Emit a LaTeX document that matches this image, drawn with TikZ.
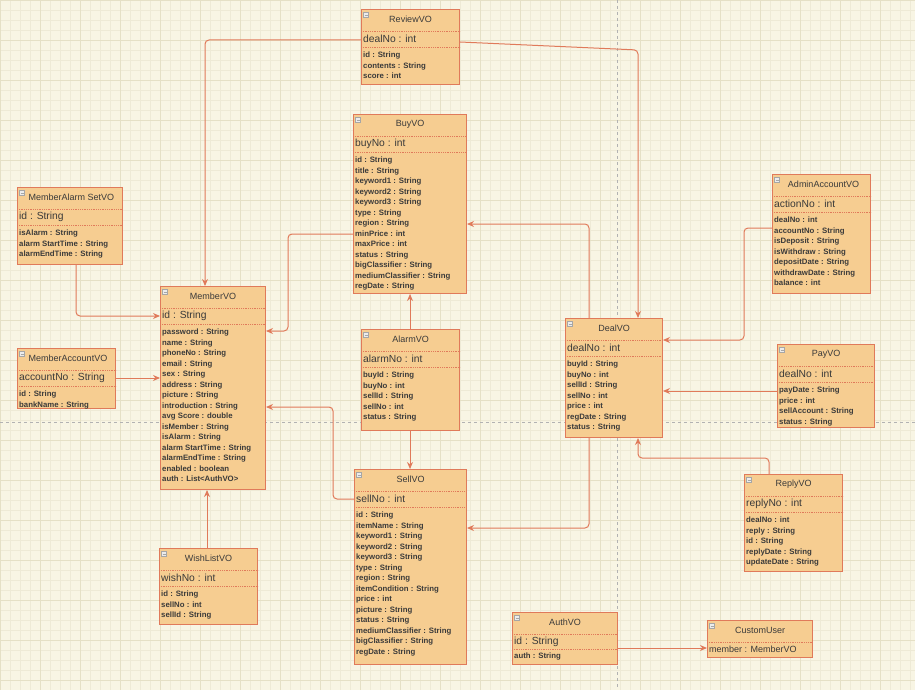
\documentclass[tikz,border=0pt]{standalone}
\usepackage{fontspec}
\setmainfont{Liberation Sans}
\usetikzlibrary{arrows.meta}
\definecolor{paper}{HTML}{F8F5E4}
\definecolor{gridfine}{HTML}{EEEAD6}
\definecolor{gridmajor}{HTML}{E5E0C6}
\definecolor{classfill}{HTML}{F6CD91}
\definecolor{classline}{HTML}{E07A5A}
\definecolor{textgray}{HTML}{3A3A3A}
\tikzset{
  classbox/.style={draw=classline, fill=classfill, line width=1pt, inner sep=0pt},
  classsep/.style={classline, densely dotted, line width=0.8pt},
  classtitle/.style={font=\fontsize{9}{10}\selectfont, text=textgray, inner sep=0pt},
  classkey/.style={font=\fontsize{10.3}{11}\selectfont, text=textgray, inner sep=0pt},
  classattr/.style={font=\fontsize{7.8}{10.5}\selectfont\bfseries, text=textgray, align=left, inner sep=0pt},
  classicon/.style={draw=gray!70, fill=gray!15, minimum size=5pt, inner sep=0pt, line width=0.4pt},
  assoc/.style={classline, line width=1pt, rounded corners=4pt, -{Stealth[length=7pt,width=6pt]}},
  pagebreak/.style={gray!60, dashed, line width=0.8pt}
}
% #1 name, #2 x, #3 y, #4 width, #5 height, #6 title, #7 key, #8 fields
\newcommand\classbox[8]{%
  \node[classbox, minimum width=#4pt, minimum height=#5pt, anchor=north west] (#1) at (#2,#3) {};
  \draw[classsep] ([yshift=-22pt]#1.north west) -- ([yshift=-22pt]#1.north east);
  \draw[classsep] ([yshift=-38pt]#1.north west) -- ([yshift=-38pt]#1.north east);
  \node[classicon] (#1-icon) at ([xshift=5pt,yshift=-6pt]#1.north west) {};
  \draw[gray!70, line width=0.4pt] ([xshift=-1.5pt]#1-icon.center) -- ([xshift=1.5pt]#1-icon.center);
  \node[classtitle] (#1-title) at ([yshift=-10.5pt]#1.north) {#6};
  \node[classkey, anchor=west] (#1-key) at ([xshift=2pt,yshift=-30pt]#1.north west) {#7};
  \node[classattr, anchor=north west] (#1-fields) at ([xshift=2pt,yshift=-43pt]#1.north west) {#8};
}

\begin{document}
\begin{tikzpicture}[x=1pt, y=-1pt]
\useasboundingbox (0,0) rectangle (915,690);
\fill[paper] (0,0) rectangle (915,690);
\draw[gridfine, line width=0.5pt, step=10pt] (0,0) grid (915,690);
\draw[gridmajor, line width=0.6pt, step=40pt] (0,0) grid (915,690);
\draw[pagebreak] (617,0) -- (617,690);
\draw[pagebreak] (0,422) -- (915,422);

\classbox{review}{361}{9}{98}{75}{ReviewVO}{dealNo : int}{id : String\\contents : String\\score : int}
\classbox{buy}{353}{114}{113}{179}{BuyVO}{buyNo : int}{id : String\\title : String\\keyword1 : String\\keyword2 : String\\keyword3 : String\\type : String\\region : String\\minPrice : int\\maxPrice : int\\status : String\\bigClassifier : String\\mediumClassifier : String\\regDate : String}
\classbox{alarmset}{17}{187}{105}{77}{\hspace*{3pt}MemberAlarm SetVO}{id : String}{isAlarm : String\\alarm StartTime : String\\alarmEndTime : String}
\classbox{account}{17}{348}{98}{60}{\hspace*{3pt}MemberAccountVO}{accountNo : String}{id : String\\bankName : String}
\classbox{member}{160}{286}{105}{203}{MemberVO}{id : String}{password : String\\name : String\\phoneNo : String\\email : String\\sex : String\\address : String\\picture : String\\introduction : String\\avg Score : double\\isMember : String\\isAlarm : String\\alarm StartTime : String\\alarmEndTime : String\\enabled : boolean\\auth : List<AuthVO>}
\classbox{alarm}{361}{329}{98}{101}{AlarmVO}{alarmNo : int}{buyId : String\\buyNo : int\\sellId : String\\sellNo : int\\status : String}
\classbox{sell}{354}{469}{112}{195}{SellVO}{sellNo : int}{id : String\\itemName : String\\keyword1 : String\\keyword2 : String\\keyword3 : String\\type : String\\region : String\\itemCondition : String\\price : int\\picture : String\\status : String\\mediumClassifier : String\\bigClassifier : String\\regDate : String}
\classbox{deal}{565}{318}{97}{119}{DealVO}{dealNo : int}{buyId : String\\buyNo : int\\sellId : String\\sellNo : int\\price : int\\regDate : String\\status : String}
\classbox{admin}{772}{174}{98}{119}{\hspace*{4pt}AdminAccountVO}{actionNo : int}{dealNo : int\\accountNo : String\\isDeposit : String\\isWithdraw : String\\depositDate : String\\withdrawDate : String\\balance : int}
\classbox{pay}{777}{344}{97}{83}{PayVO}{dealNo : int}{payDate : String\\price : int\\sellAccount : String\\status : String}
\classbox{reply}{744}{474}{98}{97}{ReplyVO}{replyNo : int}{dealNo : int\\reply : String\\id : String\\replyDate : String\\updateDate : String}
\classbox{wish}{159}{548}{98}{76}{WishListVO}{wishNo : int}{id : String\\sellNo : int\\sellId : String}
\node[classbox, minimum width=105pt, minimum height=52pt, anchor=north west] (auth) at (512,612) {};
\draw[classsep] ([yshift=-22pt]auth.north west) -- ([yshift=-22pt]auth.north east);
\draw[classsep] ([yshift=-37pt]auth.north west) -- ([yshift=-37pt]auth.north east);
\node[classicon] (auth-icon) at ([xshift=5pt,yshift=-6pt]auth.north west) {};
\draw[gray!70, line width=0.4pt] ([xshift=-1.5pt]auth-icon.center) -- ([xshift=1.5pt]auth-icon.center);
\node[classtitle] (auth-title) at ([yshift=-10.5pt]auth.north) {AuthVO};
\node[classkey, anchor=west] (auth-key) at ([xshift=2pt,yshift=-29.5pt]auth.north west) {id : String};
\node[classattr, anchor=west] (auth-fields) at ([xshift=2pt,yshift=-44.5pt]auth.north west) {auth : String};
\node[classbox, minimum width=105pt, minimum height=37pt, anchor=north west] (custom) at (707,620) {};
\draw[classsep] ([yshift=-22pt]custom.north west) -- ([yshift=-22pt]custom.north east);
\node[classicon] (custom-icon) at ([xshift=5pt,yshift=-6pt]custom.north west) {};
\draw[gray!70, line width=0.4pt] ([xshift=-1.5pt]custom-icon.center) -- ([xshift=1.5pt]custom-icon.center);
\node[classtitle] (custom-title) at ([yshift=-10.5pt]custom.north) {CustomUser};
\node[classtitle, font=\fontsize{9}{10}\selectfont, anchor=west] (custom-fields) at ([xshift=2pt,yshift=-29.5pt]custom.north west) {member : MemberVO};

\draw[assoc] (review.west |- 0,40) -- (205,40) -- (member.north -| 205,0);
\draw[assoc] (review.east |- 0,42) -- (638,50) -- (deal.north -| 638,0);
\draw[assoc] (alarmset.south -| 76,0) -- (76,316) -- (member.west |- 0,316);
\draw[assoc] (account.east |- 0,378) -- (member.west |- 0,378);
\draw[assoc] (buy.west |- 0,234) -- (288,234) -- (288,331) -- (member.east |- 0,331);
\draw[assoc] (alarm.north -| 410,0) -- (buy.south -| 410,0);
\draw[assoc] (alarm.south -| 410,0) -- (sell.north -| 410,0);
\draw[assoc] (sell.west |- 0,499) -- (333,499) -- (333,407) -- (member.east |- 0,407);
\draw[assoc] (wish.north -| 207,0) -- (member.south -| 207,0);
\draw[assoc] (deal.north -| 589,0) -- (589,224) -- (buy.east |- 0,224);
\draw[assoc] (deal.south -| 589,0) -- (589,528) -- (sell.east |- 0,528);
\draw[assoc] (admin.west |- 0,228) -- (744,228) -- (744,340) -- (deal.east |- 0,340);
\draw[assoc] (pay.west |- 0,391) -- (deal.east |- 0,391);
\draw[assoc] (reply.north -| 769,0) -- (769,458) -- (638,458) -- (deal.south -| 638,0);
\draw[assoc] (auth.east |- 0,648) -- (custom.west |- 0,648);
\end{tikzpicture}
\end{document}
